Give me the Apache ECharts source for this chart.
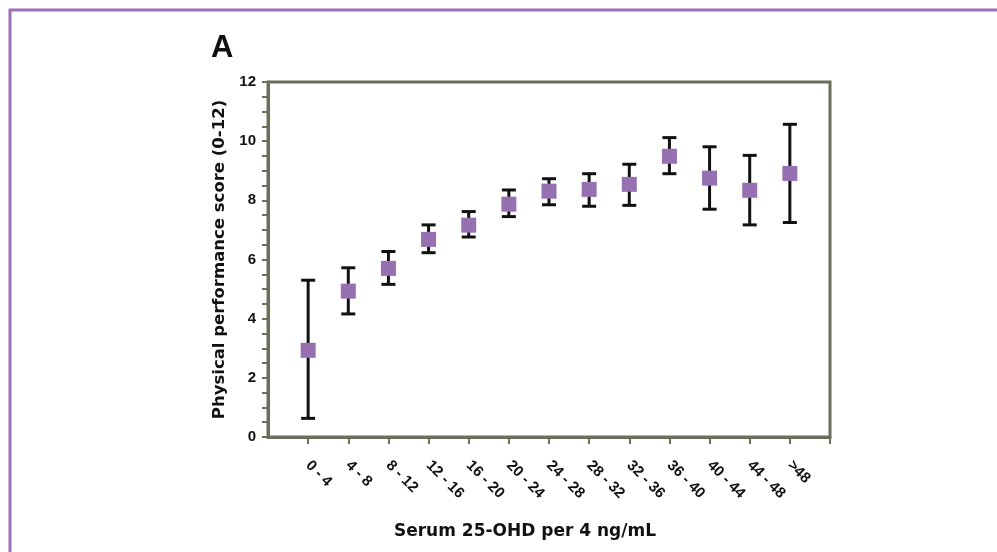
<!DOCTYPE html>
<html>
<head>
<meta charset="utf-8">
<script src="https://cdn.jsdelivr.net/npm/echarts@6/dist/echarts.min.js"></script>
<style>
  html, body { margin: 0; padding: 0; background: #fff; }
  #chart { width: 997px; height: 552px; }
</style>
</head>
<body>
<div id="chart"></div>
<script>
// serum 25-OHD bins (ng/mL)
const categories = ["0 - 4", "4 - 8", "8 - 12", "12 - 16", "16 - 20", "20 - 24", "24 - 28",
  "28 - 32", "32 - 36", "36 - 40", "40 - 44", "44 - 48", ">48"];
// physical performance score, mean and error bar ends
const means = [2.93, 4.93, 5.70, 6.68, 7.16, 7.87, 8.31, 8.37, 8.54, 9.49, 8.75, 8.34, 8.91];
const lower = [0.63, 4.16, 5.16, 6.23, 6.76, 7.45, 7.85, 7.80, 7.83, 8.90, 7.70, 7.17, 7.25];
const upper = [5.30, 5.72, 6.27, 7.17, 7.62, 8.35, 8.73, 8.90, 9.22, 10.12, 9.81, 9.52, 10.57];

const axisColor = "#6d6d5c";
const font = "'DejaVu Sans', Arial, sans-serif";
const tickFont = "'Liberation Sans', Arial, sans-serif";

let myChart = echarts.init(document.getElementById("chart"));

let positions = categories.map((c, i) => i + 1);
let points = means.map((v, i) => [i + 1, v]);
let bars = lower.map((v, i) => [i + 1, v, upper[i]]);

let option = {
  animation: false,
  backgroundColor: "#fff",
  title: {
    text: "A",
    left: 206,
    top: 28,
    textStyle: { fontFamily: tickFont, fontSize: 31, fontWeight: "bold", color: "#111" },
  },
  graphic: [
    {
      type: "rect",
      shape: { x: 10, y: 10, width: 1100, height: 700 },
      style: { fill: "none", stroke: "#9a6fc0", lineWidth: 3 },
      silent: true,
    },
  ],
  grid: {
    left: 268,
    right: 167,
    top: 82,
    bottom: 115,
    show: true,
    borderColor: axisColor,
    borderWidth: 3,
  },
  xAxis: {
    type: "value",
    min: 0,
    max: 14,
    interval: 1,
    name: "Serum 25-OHD per 4 ng/mL",
    nameLocation: "middle",
    nameGap: 86,
    nameTextStyle: {
      fontFamily: font, fontSize: 17, fontWeight: "bold", color: "#111",
      padding: [0, 48, 0, 0],
    },
    axisLine: { lineStyle: { color: axisColor, width: 3 } },
    axisTick: {
      customValues: positions.concat([14]),
      length: 7,
      lineStyle: { color: axisColor, width: 2 },
    },
    axisLabel: {
      customValues: positions,
      rotate: -45,
      margin: 26,
      fontFamily: tickFont,
      fontSize: 15,
      fontWeight: "bold",
      color: "#111",
      formatter: (v) => categories[v - 1] || "",
    },
    splitLine: { show: false },
  },
  yAxis: {
    type: "value",
    min: 0,
    max: 12,
    interval: 2,
    name: "Physical performance score (0-12)",
    nameLocation: "middle",
    nameGap: 33,
    nameTextStyle: { fontFamily: font, fontSize: 16.5, fontWeight: "bold", color: "#111" },
    axisLine: { lineStyle: { color: axisColor, width: 3 } },
    axisTick: { length: 6, lineStyle: { color: axisColor, width: 2 } },
    minorTick: { show: true, splitNumber: 4, length: 6, lineStyle: { color: axisColor, width: 2 } },
    axisLabel: {
      margin: 12,
      fontFamily: tickFont,
      fontSize: 15,
      fontWeight: "bold",
      color: "#111",
    },
    splitLine: { show: false },
  },
  series: [
    {
      name: "error",
      type: "custom",
      z: 2,
      data: bars,
      renderItem: function (params, api) {
        let x = api.value(0);
        let lo = api.coord([x, api.value(1)]);
        let hi = api.coord([x, api.value(2)]);
        let half = 7;
        let style = { stroke: "#111", lineWidth: 3 };
        return {
          type: "group",
          children: [
            { type: "line", shape: { x1: lo[0], y1: lo[1], x2: hi[0], y2: hi[1] }, style: style },
            { type: "line", shape: { x1: lo[0] - half, y1: lo[1], x2: lo[0] + half, y2: lo[1] }, style: style },
            { type: "line", shape: { x1: hi[0] - half, y1: hi[1], x2: hi[0] + half, y2: hi[1] }, style: style },
          ],
        };
      },
    },
    {
      name: "score",
      type: "scatter",
      z: 3,
      symbol: "rect",
      symbolSize: 15,
      itemStyle: { color: "#9670b0", opacity: 1 },
      data: points,
    },
  ],
};
option && myChart.setOption(option);
</script>
</body>
</html>
